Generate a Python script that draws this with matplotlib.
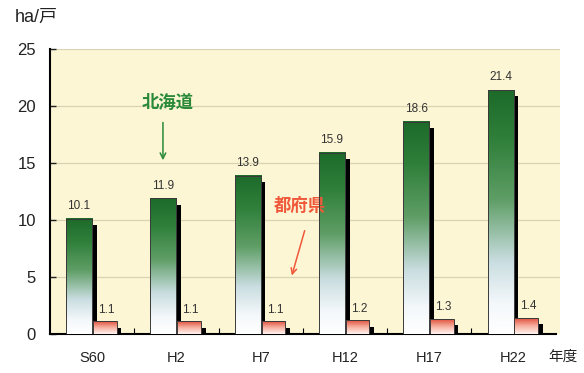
import numpy as np
import matplotlib.pyplot as plt
from matplotlib.colors import LinearSegmentedColormap
from matplotlib.patches import Rectangle

plt.rcParams['font.family'] = ['Liberation Sans', 'Noto Sans CJK JP']

# 1戸当たり経営耕地面積
years = ['S60', 'H2', 'H7', 'H12', 'H17', 'H22']
hokkaido = [10.1, 11.9, 13.9, 15.9, 18.6, 21.4]
fuken = [1.1, 1.1, 1.1, 1.2, 1.3, 1.4]

green_cmap = LinearSegmentedColormap.from_list(
    'g', [(0.0, '#ffffff'), (0.12, '#f4f8fb'), (0.3, '#c9dde0'),
          (0.55, '#5f9e66'), (0.8, '#2f7f3a'), (1.0, '#1d6a2a')])
pink_cmap = LinearSegmentedColormap.from_list(
    'p', [(0.0, '#fff4f0'), (0.5, '#f7b0a0'), (1.0, '#e0503c')])
grad = np.linspace(0, 1, 256)[::-1].reshape(-1, 1)


def draw_bar(ax, x0, w, h, cmap):
    # 影
    ax.add_patch(Rectangle((x0 + w, 0), 0.055, max(h - 0.55, 0.3),
                           color='black', zorder=2, lw=0))
    ax.imshow(grad, cmap=cmap, extent=[x0, x0 + w, 0, h],
              aspect='auto', zorder=3, interpolation='bicubic')
    ax.add_patch(Rectangle((x0, 0), w, h, fill=False,
                           edgecolor='#3a3a3a', lw=0.7, zorder=4))


fig = plt.figure(figsize=(5.84, 3.73), dpi=100)
ax = fig.add_axes([50 / 584, 1 - 334 / 373, 510 / 584, 285 / 373])
ax.set_facecolor('#fcf6d4')

for y in [5, 10, 15, 20, 25]:
    ax.axhline(y, color='#d9d3b2', lw=0.9, zorder=1)

xs = np.arange(len(years)) + 0.5
gw, pw = 0.31, 0.28
for x, h, p in zip(xs, hokkaido, fuken):
    draw_bar(ax, x - gw, gw, h, green_cmap)
    draw_bar(ax, x + 0.01, pw, p, pink_cmap)
    ax.text(x - gw / 2, h + 0.6, f'{h}', ha='center', va='bottom',
            fontsize=8.5, color='#333333')
    ax.text(x + 0.01 + pw / 2 + 0.02, p + 0.5, f'{p}', ha='center',
            va='bottom', fontsize=8.5, color='#333333')

ax.set_xlim(0, 6.05)
ax.set_ylim(0, 25)
ax.set_yticks([0, 5, 10, 15, 20, 25])
ax.set_xticks(xs)
ax.set_xticklabels(years)
ax.set_xticks(np.arange(1, 6), minor=True)
ax.tick_params(axis='y', direction='in', length=4, width=1,
               labelsize=12, pad=10, colors='#222222')
ax.tick_params(axis='x', which='major', length=0, labelsize=10.5,
               pad=12, colors='#222222')
ax.tick_params(axis='x', which='minor', direction='in', length=4,
               width=0.8)
for s in ['top', 'right']:
    ax.spines[s].set_visible(False)
ax.spines['left'].set_linewidth(1.5)
ax.spines['bottom'].set_linewidth(1.5)
ax.spines['bottom'].set_bounds(0, 6.0)

fig.text(15 / 584, 1 - 17 / 373, 'ha/戸', fontsize=13, va='center',
         color='#222222')
fig.text(548 / 584, 1 - 357 / 373, '年度', fontsize=10.5, va='center',
         color='#222222')

ax.text(1.4, 20.3, '北海道', color='#2a8a3a', fontsize=12.5,
        fontweight='bold', ha='center', va='center')
ax.annotate('', xy=(1.34, 15.0), xytext=(1.34, 18.8),
            arrowprops=dict(arrowstyle='->', color='#2a8a3a', lw=1.1))
ax.text(2.97, 11.3, '都府県', color='#f0583a', fontsize=12.5,
        fontweight='bold', ha='center', va='center')
ax.annotate('', xy=(2.86, 4.9), xytext=(3.03, 9.3),
            arrowprops=dict(arrowstyle='->', color='#f0583a', lw=1.1))

fig.savefig('out.png', dpi=100)
